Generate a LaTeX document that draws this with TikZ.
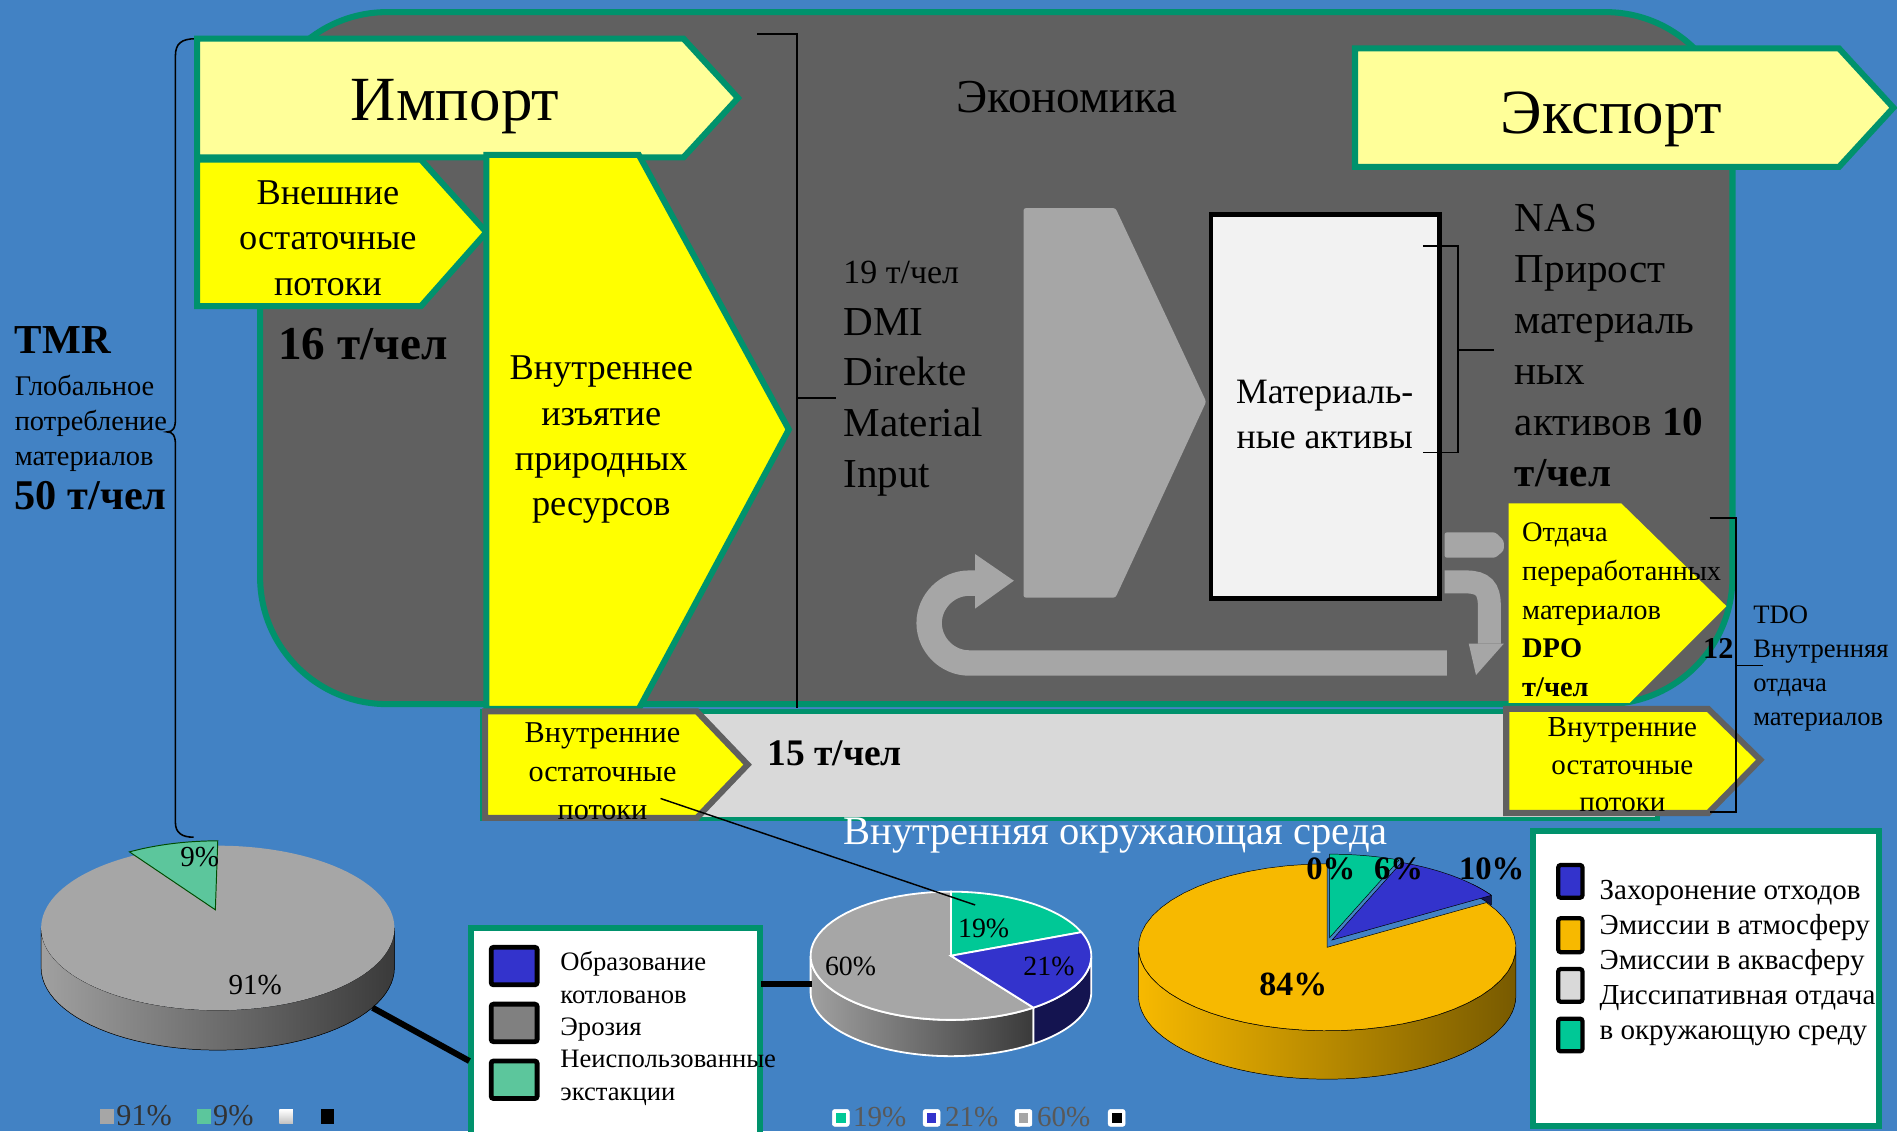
\documentclass[tikz,border=0pt]{standalone}
\usepackage{fontspec}
\setmainfont{Liberation Serif}
\newcommand{\fsz}[2]{\fontsize{#1}{#2}\selectfont}
\definecolor{bgblue}{RGB}{66,130,196}
\definecolor{econgray}{RGB}{96,96,96}
\definecolor{bordgreen}{RGB}{0,146,108}
\definecolor{lyellow}{RGB}{255,255,153}
\definecolor{yel}{RGB}{255,255,0}
\definecolor{arrgray}{RGB}{166,166,166}
\definecolor{boxwhite}{RGB}{242,242,242}
\definecolor{stripgray}{RGB}{217,217,217}
\definecolor{piegreen}{RGB}{92,198,156}
\definecolor{mgreen}{RGB}{0,200,150}
\definecolor{pblue}{RGB}{51,51,204}
\definecolor{porange}{RGB}{247,185,0}
\definecolor{pnavy}{RGB}{20,20,80}
\definecolor{legtext}{RGB}{89,89,89}
\definecolor{sideL}{RGB}{160,160,160}
\definecolor{sideR}{RGB}{58,58,58}
\definecolor{orsideR}{RGB}{120,90,0}
\definecolor{legdark}{RGB}{50,50,50}
\newcommand{\pieface}[7]{\filldraw[#7] (#1,#2) -- plot[domain=#5:#6,samples=50] ({#1+#3*cos(\x)},{#2-#4*sin(\x)}) -- cycle;}
\newcommand{\pieside}[8]{\filldraw[#8] plot[domain=#5:#6,samples=50] ({#1+#3*cos(\x)},{#2-#4*sin(\x)}) -- plot[domain=#6:#5,samples=50] ({#1+#3*cos(\x)},{#2+#7-#4*sin(\x)}) -- cycle;}
\begin{document}
\begin{tikzpicture}[x=1pt,y=-1pt,
  lbl/.style={inner sep=0pt},
  ybox/.style={fill=yel, draw=bordgreen, line width=5pt},
  gbox/.style={fill=yel, draw=econgray, line width=5pt},
  brk/.style={line width=1.5pt, draw=black},
  legbox/.style={fill=white, draw=bordgreen, line width=5pt},
  legsq/.style={draw=black, line width=4pt, rounded corners=2pt},
  conn/.style={line width=5pt, draw=black}
  ]
\useasboundingbox (0,0) rectangle (1568,935);
\fill[bgblue] (0,0) rectangle (1568,935);

% economy
\draw[fill=econgray, draw=bordgreen, line width=5pt, rounded corners=105pt] (215,10) rectangle (1432,582);

% left brace
\draw[line width=1.3pt] (162,32) .. controls (150,32) and (145,36) .. (145,46) -- (145,346) .. controls (145,354) and (143,357) .. (138,357) .. controls (143,357) and (145,360) .. (145,368) -- (145,680) .. controls (145,688) and (150,692) .. (160,692);

% DMI bracket
\draw[brk] (626,28) -- (659,28) -- (659,585);
\draw[brk] (659,329) -- (691,329);

% import / export
\draw[fill=lyellow, draw=bordgreen, line width=5pt] (163,32) -- (565,32) -- (610,81) -- (565,130) -- (163,130) -- cycle;
\draw[fill=lyellow, draw=bordgreen, line width=5pt] (1120,40) -- (1520,40) -- (1565,89) -- (1520,138) -- (1120,138) -- cycle;

% external residual and domestic extraction
\draw[ybox] (163,132) -- (348,132) -- (402,192) -- (348,253) -- (163,253) -- cycle;
\draw[ybox] (402,128) -- (528,128) -- (652,355) -- (528,586) -- (402,586) -- cycle;

% gray arrow, box, recycling
\fill[arrgray, rounded corners=2pt] (846,172) -- (922,172) -- (997,332) -- (922,494) -- (846,494) -- cycle;
\draw[arrgray, line width=21pt] (1196,548) -- (801,548) .. controls (783,548) and (768,533) .. (768,515) .. controls (768,497) and (783,482) .. (801,482) -- (808,482);
\fill[arrgray] (806,458) -- (838,480) -- (806,503) -- cycle;
\draw[fill=boxwhite, line width=4pt] (1001,177) rectangle (1190,495);
\fill[arrgray, rounded corners=2pt] (1194,440) -- (1236,440) -- (1243,447) -- (1243,455) -- (1236,461) -- (1194,461) -- cycle;
\draw[arrgray, line width=19pt] (1194,481) -- (1212,481) .. controls (1226,481) and (1231,487) .. (1231,500) -- (1231,532);
\fill[arrgray] (1214,532) -- (1243,532) -- (1220,558) -- cycle;
\draw[brk] (1176,203) -- (1205,203) -- (1205,374) -- (1176,374);
\draw[brk] (1205,289) -- (1235,289);

% inner environment strip
\draw[fill=stripgray, draw=bordgreen, line width=4pt] (399,588) rectangle (1370,677);
\draw[gbox] (401,588) -- (576,588) -- (618,632) -- (576,676) -- (401,676) -- cycle;
\draw[gbox] (1245,586) -- (1412,586) -- (1455,628) -- (1412,672) -- (1245,672) -- cycle;

% DPO box
\fill[yel] (1247,416) -- (1340,416) -- (1427,501) -- (1347,581) -- (1247,581) -- cycle;

% TDO bracket
\draw[brk] (1413,428) -- (1435,428) -- (1435,671) -- (1413,671);
\draw[brk] (1435,550) -- (1457,550);

% texts
\node[lbl, font=\fsz{52}{60}, anchor=base] (imp) at (376,100) {Импорт};
\node[lbl, font=\fsz{52}{60}, anchor=base] (exp) at (1332,110) {Экспорт};
\node[lbl, font=\fsz{39}{45}, anchor=base] (econ) at (882,93) {Экономика};
\node[lbl, font=\fsz{30}{37.5}, align=center, anchor=north] (ext) at (271,149) {Внешние\\остаточные\\потоки};
\node[lbl, font=\fsz{30}{37.5}, align=center, anchor=north] (dom) at (497,294) {Внутреннее\\изъятие\\природных\\ресурсов};
\node[lbl, font=\bfseries\fsz{39}{45}, anchor=base] (t16) at (300,297) {16 т/чел};
\node[lbl, font=\bfseries\fsz{34}{40}, anchor=base west] (tmr) at (12,292) {TMR};
\node[lbl, font=\fsz{23.5}{29}, align=left, anchor=north west] (glob) at (12,309.5) {Глобальное\\потребление\\материалов};
\node[lbl, font=\bfseries\fsz{35}{40}, anchor=base west] (t50) at (12,421) {50 т/чел};
\node[lbl, font=\fsz{28}{34}, anchor=base west] (t19) at (697,234) {19 т/чел};
\node[lbl, font=\fsz{34}{42}, align=left, anchor=north west] (dmi) at (697,254.5) {DMI\\Direkte\\Material\\Input};
\node[lbl, font=\fsz{34}{42.2}, align=left, anchor=north west] (nas) at (1252,168.5) {NAS\\Прирост\\материаль\\ных\\активов \textbf{10}\\\textbf{т/чел}};
\node[lbl, font=\fsz{29.5}{37}, align=center, anchor=north] (mat) at (1095,314) {Материаль-\\ные активы};
\node[lbl, font=\fsz{23.5}{32}, align=left, anchor=north west] (dpo) at (1258,432) {Отдача\\переработанных\\материалов\\\textbf{DPO}\\\textbf{т/чел}};
\node[lbl, font=\bfseries\fsz{25}{30}, anchor=base east] (t12) at (1433,544) {12};
\node[lbl, font=\fsz{22}{28}, align=left, anchor=north west] (tdo) at (1449,500.5) {TDO\\Внутренняя\\отдача\\материалов};
\node[lbl, font=\fsz{25}{31.5}, align=center, anchor=north] (inl) at (498,597.5) {Внутренние\\остаточные\\потоки};
\node[lbl, font=\fsz{24}{31}, align=center, anchor=north] (inr) at (1341,593) {Внутренние\\остаточные\\потоки};
\node[lbl, font=\bfseries\fsz{31}{36}, anchor=base west] (t15) at (634,633) {15 т/чел};
\node[lbl, font=\fsz{33.5}{38}, text=white, anchor=base] (env) at (922,698) {Внутренняя окружающая среда};

% left pie
\pieside{180}{767}{146}{68}{180}{360}{33}{left color=sideL, right color=sideR}
\fill[arrgray] (180,767) ellipse [x radius=146pt, y radius=68pt];
\filldraw[fill=piegreen, draw=green!30!black, line width=0.8pt] (178,752) -- plot[domain=90:120,samples=20] ({180+146*cos(\x)},{763-68*sin(\x)}) -- cycle;
\node[lbl, font=\fsz{24}{28}, anchor=base] (p9) at (165,716) {9\%};
\node[lbl, font=\fsz{24}{28}, anchor=base] (p91) at (211,822) {91\%};

% middle pie
\pieside{786}{790}{116}{53}{180}{306}{30}{left color=sideL, right color=sideR, draw=white, line width=1.5pt}
\pieside{786}{790}{116}{53}{306}{360}{30}{fill=pnavy, draw=white, line width=1.5pt}
\pieface{786}{790}{116}{53}{90}{306}{fill=arrgray, draw=white, line width=1.5pt}
\pieface{786}{790}{116}{53}{21.6}{90}{fill=mgreen, draw=white, line width=1.5pt}
\pieface{786}{790}{116}{53}{-54}{21.6}{fill=pblue, draw=white, line width=1.5pt}
\node[lbl, font=\fsz{23}{28}, anchor=base] (p19) at (813,775) {19\%};
\node[lbl, font=\fsz{23}{28}, anchor=base] (p21) at (867,806) {21\%};
\node[lbl, font=\fsz{23}{28}, anchor=base] (p60) at (703,806) {60\%};

% orange pie
\pieside{1097}{783}{156}{69}{180}{360}{40}{left color=porange, right color=orsideR}
\pieface{1097}{783}{156}{69}{-270}{32.4}{fill=porange}
\pieside{1101}{777}{156}{69}{32.4}{42}{8}{fill=pnavy}
\pieface{1101}{777}{156}{69}{32.4}{68.4}{fill=pblue}
\pieface{1099}{775}{156}{69}{68.4}{90}{fill=mgreen}
\node[lbl, font=\bfseries\fsz{27}{32}, anchor=base] (p0) at (1100,727) {0\%};
\node[lbl, font=\bfseries\fsz{27}{32}, anchor=base] (p6) at (1156,727) {6\%};
\node[lbl, font=\bfseries\fsz{27}{32}, anchor=base] (p10) at (1233,727) {10\%};
\node[lbl, font=\bfseries\fsz{28}{32}, anchor=base] (p84) at (1069,823) {84\%};

% legend 1
\draw[legbox] (389,767) rectangle (628,945);
\draw[legsq, fill=pblue] (406,783) rectangle (444,814);
\draw[legsq, fill=gray] (406,830) rectangle (444,861);
\draw[legsq, fill=piegreen] (406,877) rectangle (444,908);
\node[lbl, font=\fsz{22}{26.75}, align=left, anchor=north west] (leg1t) at (463,786.5) {Образование\\котлованов\\Эрозия\\Неиспользованные\\экстакции};

% legend 2
\draw[legbox] (1267,687) rectangle (1553,931);
\draw[legsq, line width=3.5pt, fill=pblue] (1288,715) rectangle (1308,742);
\draw[legsq, line width=3.5pt, fill=porange] (1288,759) rectangle (1308,787);
\draw[legsq, line width=3.5pt, fill=stripgray] (1288,801) rectangle (1308,828);
\draw[legsq, line width=3.5pt, fill=mgreen] (1288,842) rectangle (1308,869);
\node[lbl, font=\fsz{24}{29}, align=left, anchor=north west] (leg2t) at (1322,727) {Захоронение отходов\\Эмиссии в атмосферу\\Эмиссии в аквасферу\\Диссипативная отдача\\в окружающую среду};

% connectors
\coordinate (inlP) at (546,660);
\coordinate (mpieG) at (806,748);
\draw[line width=1.2pt] (inlP) -- (mpieG);
\coordinate (lpieE) at (308,833);
\coordinate (leg1W) at (388,877);
\draw[conn] (lpieE) -- (leg1W);
\coordinate (leg1E) at (629,813);
\coordinate (mpieW) at (671,813);
\draw[conn] (leg1E) -- (mpieW);

% bottom legends
\fill[arrgray] (83,917) rectangle (94,929);
\node[lbl, font=\fsz{25}{30}, text=legdark, anchor=base west] (lg91) at (96,930) {91\%};
\fill[piegreen] (163,917) rectangle (174,929);
\node[lbl, font=\fsz{25}{30}, text=legdark, anchor=base west] (lg9) at (176,930) {9\%};
\shade[top color=white, bottom color=gray!50] (231,917) rectangle (242,929);
\fill[black] (265,917) rectangle (276,929);

\filldraw[fill=white, draw=white, rounded corners=2pt] (688,917) rectangle (702,931);
\fill[mgreen] (691,920) rectangle (699,928);
\node[lbl, font=\fsz{24}{30}, text=legtext, anchor=base west] (lg19) at (705,931) {19\%};
\filldraw[fill=white, draw=white, rounded corners=2pt] (763,917) rectangle (777,931);
\fill[pblue] (766,920) rectangle (774,928);
\node[lbl, font=\fsz{24}{30}, text=legtext, anchor=base west] (lg21) at (781,931) {21\%};
\filldraw[fill=white, draw=white, rounded corners=2pt] (839,917) rectangle (853,931);
\fill[arrgray] (842,920) rectangle (850,928);
\node[lbl, font=\fsz{24}{30}, text=legtext, anchor=base west] (lg60) at (857,931) {60\%};
\filldraw[fill=white, draw=white, rounded corners=2pt] (916,917) rectangle (930,931);
\fill[black] (919,920) rectangle (927,928);
\end{tikzpicture}
\end{document}
